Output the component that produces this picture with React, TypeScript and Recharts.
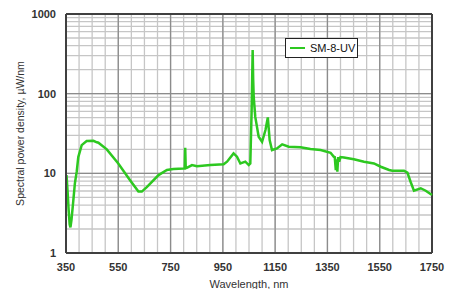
import React from 'react';
import {
  LineChart,
  Line,
  XAxis,
  YAxis,
  CartesianGrid,
  ReferenceLine,
  Legend,
  Label,
} from 'recharts';

// Spectrum, nm -> µW/nm
const wavelengths = [
  352, 356, 360, 364, 367, 371, 377, 384, 391, 397, 410, 429, 455, 468, 474, 506, 550, 595, 627, 640,
  659, 704, 736, 761, 800, 804, 806, 808, 812, 832, 851, 902, 953, 966, 991, 1004, 1017, 1036, 1049,
  1055, 1060, 1064, 1066, 1068, 1074, 1087, 1100, 1113, 1122, 1129, 1138, 1157, 1177, 1202, 1247,
  1285, 1324, 1362, 1374, 1378, 1382, 1385, 1388, 1391, 1395, 1400, 1413, 1451, 1490, 1528, 1554,
  1586, 1598, 1643, 1656, 1668, 1681, 1707, 1726, 1750,
];
const power = [
  9.5, 6, 3.5, 2.3, 2.1, 2.6, 4.2, 7.5, 10.5, 16, 22.6, 25.4, 25.6, 24.5, 24.2, 20, 13.3, 8.2, 5.9,
  5.9, 6.7, 9.5, 11, 11.3, 11.5, 11.5, 21, 11.6, 11.7, 12.7, 12.3, 12.7, 13, 14, 17.8, 16.2, 13.3,
  14, 12.7, 13.3, 60, 352, 150, 91, 51, 28.8, 24.9, 35, 50.3, 26.2, 19.6, 20.5, 23.1, 21.6, 21.2,
  20.2, 19.6, 18.1, 16.2, 16, 11, 15, 10.5, 16, 14, 16, 15.8, 15, 14, 13.3, 12.1, 11, 10.8, 10.8,
  10.2, 7.85, 6.05, 6.5, 6.05, 5.35,
];

const xTicks = [
  350, 400, 450, 500, 550, 600, 650, 700, 750, 800, 850, 900, 950, 1000, 1050, 1100, 1150, 1200,
  1250, 1300, 1350, 1400, 1450, 1500, 1550, 1600, 1650, 1700, 1750,
];
const xMajor = [350, 550, 750, 950, 1150, 1350, 1550, 1750];
const yTicks = [
  1, 2, 3, 4, 5, 6, 7, 8, 9, 10, 20, 30, 40, 50, 60, 70, 80, 90, 100, 200, 300, 400, 500, 600, 700,
  800, 900, 1000,
];
const yMajor = [1, 10, 100, 1000];

const data = wavelengths.map((nm, i) => ({ nm, v: power[i] }));

const GREEN = '#2dc820';
const FONT = '"Liberation Sans", Arial, sans-serif';

const LegendBox = () => (
  <div
    style={{
      width: 71,
      height: 18,
      border: '1px solid #222',
      background: '#fff',
      display: 'flex',
      alignItems: 'center',
      fontFamily: FONT,
      fontSize: 11,
      color: '#111',
    }}
  >
    <span style={{ display: 'inline-block', width: 15, height: 2.5, background: GREEN, margin: '0 5px 0 4px' }} />
    SM-8-UV
  </div>
);

export default function App() {
  return (
    <div style={{ position: 'absolute', left: 0, top: 0, background: '#fff' }}>
      <LineChart width={456} height={289} data={data} margin={{ top: 14, right: 24, left: 0, bottom: 0 }}>
        <CartesianGrid stroke="#c6c6c6" strokeWidth={1.3} />
        {xMajor.map(x => (
          <ReferenceLine key={`x${x}`} x={x} stroke="#8c8c8c" strokeWidth={1.3} />
        ))}
        {yMajor.map(y => (
          <ReferenceLine key={`y${y}`} y={y} stroke="#8c8c8c" strokeWidth={1.3} />
        ))}
        <ReferenceLine y={1000} stroke="#404040" strokeWidth={2} />
        <ReferenceLine x={1750} stroke="#404040" strokeWidth={2} />
        <XAxis
          type="number"
          dataKey="nm"
          domain={[350, 1750]}
          ticks={xTicks}
          interval={0}
          tickFormatter={v => (xMajor.includes(v) ? String(v) : '')}
          tickLine={false}
          tickSize={6}
          tickMargin={4}
          height={36}
          axisLine={{ stroke: '#404040', strokeWidth: 2 }}
          tick={{ fontFamily: FONT, fontSize: 11, fontWeight: 'bold', fill: '#333' }}
        >
          <Label
            value="Wavelength, nm"
            position="insideBottom"
            offset={1}
            style={{ fontFamily: FONT, fontSize: 11, fill: '#333' }}
          />
        </XAxis>
        <YAxis
          type="number"
          scale="log"
          domain={[1, 1000]}
          allowDataOverflow
          ticks={yTicks}
          interval={0}
          tickFormatter={v => (yMajor.includes(v) ? String(v) : '')}
          tickLine={false}
          tickSize={6}
          tickMargin={4}
          width={66}
          axisLine={{ stroke: '#404040', strokeWidth: 2 }}
          tick={{ fontFamily: FONT, fontSize: 11, fontWeight: 'bold', fill: '#333' }}
        >
          <Label
            value="Spectral power density, µW/nm"
            angle={-90}
            position="center"
            dx={-13}
            style={{ fontFamily: FONT, fontSize: 10.5, fill: '#333', textAnchor: 'middle' }}
          />
        </YAxis>
        <Legend
          layout="horizontal"
          verticalAlign="middle"
          align="center"
          content={<LegendBox />}
          wrapperStyle={{ left: 285, top: 38, width: 73, height: 20 }}
        />
        <Line
          type="linear"
          dataKey="v"
          name="SM-8-UV"
          stroke={GREEN}
          strokeWidth={2.5}
          dot={false}
          isAnimationActive={false}
        />
      </LineChart>
    </div>
  );
}
